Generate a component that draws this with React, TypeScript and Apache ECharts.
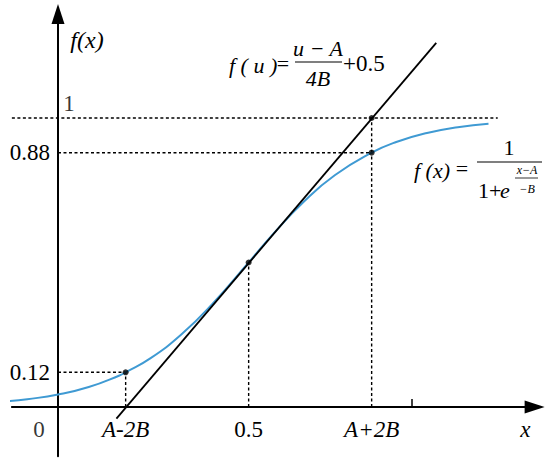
import React, { useEffect, useRef } from "react";
import * as echarts from "echarts";

// Sigmoid curve points (x in axis units, y = f(x))
const curveX = [-0.8, -0.5, 0, 0.5, 1, 1.1, 1.5, 2, 2.5, 3.1, 3.5, 4, 4.5, 5.1, 5.5, 6, 6.5, 7];
const curveY = [0.02, 0.027, 0.043, 0.069, 0.109, 0.12, 0.168, 0.25, 0.354, 0.5, 0.599, 0.711, 0.802, 0.88, 0.917, 0.948, 0.968, 0.98];

// Tangent line end points
const tangentX = [0.95, 6.15];
const tangentY = [-0.04, 1.26];

// Marked points: A-2B, A, A+2B
const markX = [1.1, 3.1, 5.1];
const markY = [0.12, 0.5, 0.88];
const topLevel = 1;
const topLineX = [-0.75, 7.15];

// Tick labels
const xTickLabels = ["A-2B", "0.5", "A+2B"];
const xTickItalic = [true, false, true];
const xNameValue = 7.6;
const xExtraTick = 5.75;
const yTickValues = [0.12, 0.88];
const yTickLabels = ["0.12", "0.88"];

const SERIF = "Times New Roman";

function txt(text: string, x: number, y: number, size: number, italic: boolean, align = "center") {
  return {
    type: "text",
    x,
    y,
    style: {
      text,
      fontFamily: SERIF,
      fontSize: size,
      fontStyle: italic ? "italic" : "normal",
      fill: "#000",
      align,
      verticalAlign: "middle",
    },
  };
}
function bar(x1: number, x2: number, y: number, w = 1.2) {
  return {
    type: "line",
    silent: true,
    shape: { x1, y1: y, x2, y2: y },
    style: { stroke: "#000", lineWidth: w },
  };
}

export default function App() {
  const ref = useRef<HTMLDivElement>(null);
  useEffect(() => {
    if (!ref.current) return;
    const chart = echarts.init(ref.current, null, { renderer: "svg" });

    const dashStyle = { color: "#000", width: 1.4, type: [3, 2.5] as any };
    const dashed: [number, number][][] = [];
    dashed.push([[topLineX[0], topLevel], [topLineX[1], topLevel]]);
    dashed.push([[0, markY[2]], [markX[2], markY[2]]]);
    dashed.push([[0, markY[0]], [markX[0], markY[0]]]);
    for (let i = 0; i < markX.length; i++) dashed.push([[markX[i], 0], [markX[i], markY[i]]]);
    dashed.push([[markX[2], markY[2]], [markX[2], topLevel]]);

    const dashSeries = dashed.map((d) => ({
      type: "line",
      data: d,
      showSymbol: false,
      clip: false,
      silent: true,
      lineStyle: dashStyle,
      z: 1,
    }));

    const dots: [number, number][] = markX.map((x, i) => [x, markY[i]] as [number, number]);
    dots.push([markX[2], topLevel]);

    const xCustom = [...markX, xNameValue];

    // grid geometry: y=0 at 407px, x=0 at 58px
    const gLeft = 11.875, gTop = 13.96, gW = 522.75, gH = 442.17;
    const zeroX = 58, zeroY = 407;

    chart.setOption({
      animation: false,
      textStyle: { fontFamily: SERIF },
      grid: {
        left: gLeft,
        width: gW,
        top: gTop,
        height: gH,
        containLabel: false,
        outerBoundsMode: "none",
      },
      xAxis: {
        type: "value",
        min: -0.75,
        max: 7.75,
        offset: -(gTop + gH - zeroY),
        splitLine: { show: false },
        axisLine: {
          onZero: false,
          lineStyle: { color: "#000", width: 2 },
          symbol: ["none", "triangle"],
          symbolSize: [13, 20],
        },
        axisTick: {
          show: true,
          inside: true,
          length: 8,
          customValues: [xExtraTick],
          lineStyle: { color: "#000", width: 1.5 },
        },
        axisLabel: {
          customValues: xCustom,
          margin: 11,
          color: "#000",
          fontSize: 23,
          fontFamily: SERIF,
          formatter: (v: number) => {
            if (v === xNameValue) return "{i|x}";
            const i = markX.indexOf(v);
            if (i < 0) return "";
            return xTickItalic[i] ? `{i|${xTickLabels[i]}}` : `{r|${xTickLabels[i]}}`;
          },
          rich: {
            i: { fontStyle: "italic", fontSize: 23, fontFamily: SERIF, color: "#000" },
            r: { fontSize: 23, fontFamily: SERIF, color: "#000" },
          },
        },
      },
      yAxis: {
        type: "value",
        min: -0.17,
        max: 1.36,
        offset: -(zeroX - gLeft),
        splitLine: { show: false },
        axisLine: {
          onZero: false,
          lineStyle: { color: "#000", width: 2 },
          symbol: ["none", "triangle"],
          symbolSize: [13, 20],
        },
        axisTick: { show: false },
        axisLabel: {
          customValues: yTickValues,
          margin: 8,
          color: "#000",
          fontSize: 23,
          fontFamily: SERIF,
          formatter: (v: number) => {
            const i = yTickValues.indexOf(v);
            return i < 0 ? "" : yTickLabels[i];
          },
        },
      },
      series: [
        ...dashSeries,
        {
          type: "line",
          data: curveX.map((x, i) => [x, curveY[i]]),
          smooth: true,
          showSymbol: false,
          clip: false,
          silent: true,
          lineStyle: { color: "#3f9ad3", width: 2 },
          z: 2,
        },
        {
          type: "line",
          data: tangentX.map((x, i) => [x, tangentY[i]]),
          showSymbol: false,
          clip: false,
          silent: true,
          lineStyle: { color: "#000", width: 1.8 },
          z: 3,
        },
        {
          type: "scatter",
          data: dots,
          symbolSize: 6,
          itemStyle: { color: "#000" },
          silent: true,
          z: 4,
        },
        {
          type: "scatter",
          data: [
            { value: [0, 0], label: { formatter: "0", offset: [-19, 22] } },
            { value: [0, topLevel], label: { formatter: "1", offset: [11, -15] } },
          ],
          symbolSize: 0,
          silent: true,
          label: {
            show: true,
            position: "inside",
            color: "#000",
            fontSize: 23,
            fontFamily: SERIF,
          },
          z: 5,
        },
      ],
      graphic: [
        txt("f(x)", 87, 40, 24, true),
        // f(u) = (u - A)/(4B) + 0.5
        txt("f ( u )", 229, 65, 22, true, "left"),
        txt("=", 283, 63, 22, false),
        txt("u − A", 318, 48, 22, true),
        bar(295, 342, 62),
        txt("4B", 318, 78, 22, true),
        txt("+0.5", 343, 63, 23, false, "left"),
        // f(x) = 1 / (1 + e^((x-A)/(-B)))
        txt("f (x)", 414, 170, 22, true, "left"),
        txt("=", 462, 168, 22, false),
        bar(477, 542, 162),
        txt("1", 509, 147, 22, false),
        txt("1+", 478, 190, 22, false, "left"),
        txt("e", 500, 190, 22, true, "left"),
        txt("x−A", 527, 170, 12, true),
        bar(515, 538, 178, 0.8),
        txt("−B", 527, 189, 12, true),
      ],
    });
    return () => chart.dispose();
  }, []);
  return <div ref={ref} style={{ position: "absolute", left: 0, top: 0, width: 550, height: 463 }} />;
}
